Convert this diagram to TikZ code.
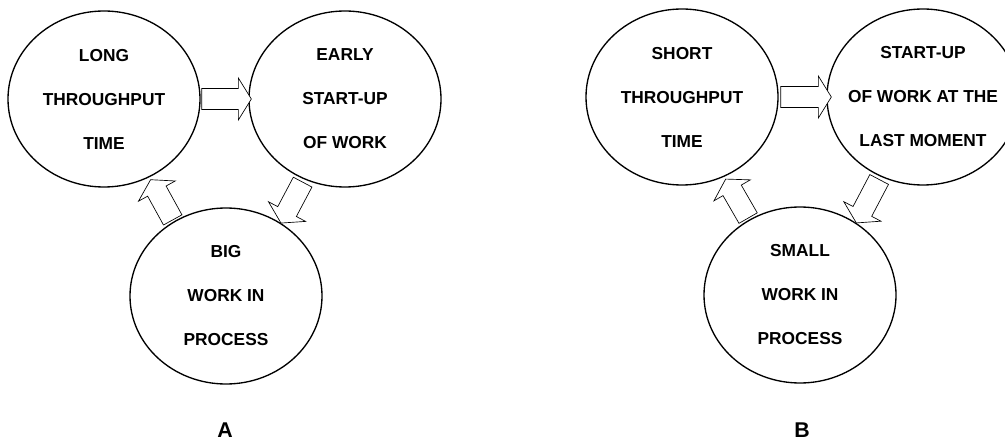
\documentclass[tikz,border=0pt]{standalone}
\usepackage{fontspec}
\setmainfont{Liberation Sans}
\usetikzlibrary{shapes.geometric, calc}

\tikzset{
  cycle/.style={draw, ellipse, line width=1pt, inner sep=0pt,
    minimum width=144pt, minimum height=132pt},
  cycletext/.style={align=center, font=\fontsize{13}{33}\selectfont\bfseries},
  fatarrow/.style={draw, fill=white, line width=0.5pt, line join=miter},
  caselabel/.style={font=\fontsize{16}{19}\selectfont\bfseries}
}

% hollow block arrow from #1 (tail) to #2 (tip)
\newcommand{\fatarrow}[2]{%
  \coordinate (fa-s) at ($(#2)!9.75pt!(#1)$);
  \draw[fatarrow] ($(#1)!7.9pt!90:(#2)$) -- ($(fa-s)!7.9pt!90:(#2)$)
    -- ($(fa-s)!15.75pt!90:(#2)$) -- (#2)
    -- ($(fa-s)!15.75pt!-90:(#2)$) -- ($(fa-s)!7.9pt!-90:(#2)$)
    -- ($(#1)!7.9pt!-90:(#2)$) -- cycle;}

\begin{document}
\begin{tikzpicture}[x=0.75pt, y=0.75pt]
    \useasboundingbox (0, 0) rectangle (1005, 443);

    % Case A
    \node[cycle] (A1) at (104, 344) {};
    \node[cycletext] (A1t) at (A1) {LONG\\THROUGHPUT\\TIME};
    \node[cycle] (A2) at (345, 344) {};
    \node[cycletext] (A2t) at (A2) {EARLY\\START-UP\\OF WORK};
    \node[cycle] (A3) at (226, 147) {};
    \node[cycletext] (A3t) at (A3) {BIG\\WORK IN\\PROCESS};
    \node[caselabel] (labA) at (225, 13) {A};

    \coordinate (A12t) at ($(A1.east)+(1, 0)$);
    \coordinate (A12h) at ($(A2.west)+(3, 0)$);
    \coordinate (A23t) at ($(A2.center)!1.035!(A2.243)$);
    \coordinate (A23h) at (A3.53);
    \coordinate (A31t) at ($(A3.center)!1.02!(A3.125)$);
    \coordinate (A31h) at ($(A1.center)!1.03!(A1.300)$);
    \fatarrow{A12t}{A12h}
    \fatarrow{A23t}{A23h}
    \fatarrow{A31t}{A31h}

    % Case B
    \node[cycle] (B1) at (682, 346) {};
    \node[cycletext] (B1t) at (B1) {SHORT\\THROUGHPUT\\TIME};
    \node[cycle] (B2) at (923, 346) {};
    \node[cycletext] (B2t) at (B2) {START-UP\\OF WORK AT THE\\LAST MOMENT};
    \node[cycle] (B3) at (800, 148) {};
    \node[cycletext] (B3t) at (B3) {SMALL\\WORK IN\\PROCESS};
    \node[caselabel] (labB) at (802, 13) {B};

    \coordinate (B12t) at ($(B1.east)+(2, 0)$);
    \coordinate (B12h) at ($(B2.west)+(5, 0)$);
    \coordinate (B23t) at ($(B2.center)!1.035!(B2.242)$);
    \coordinate (B23h) at (B3.52);
    \coordinate (B31t) at ($(B3.center)!1.02!(B3.124)$);
    \coordinate (B31h) at ($(B1.center)!1.03!(B1.298)$);
    \fatarrow{B12t}{B12h}
    \fatarrow{B23t}{B23h}
    \fatarrow{B31t}{B31h}
\end{tikzpicture}
\end{document}
